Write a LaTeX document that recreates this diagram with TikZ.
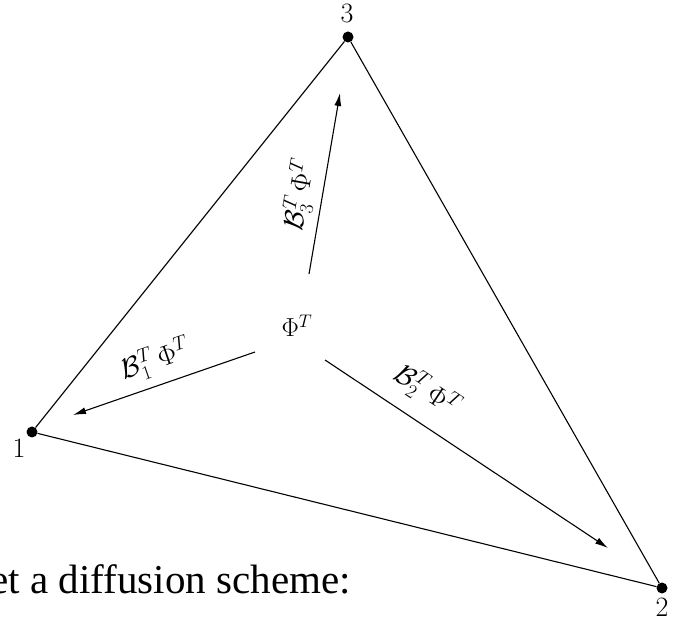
\documentclass[tikz,border=0pt]{standalone}
\usepackage{fix-cm}
\usepackage{fontspec}
\newfontfamily\tnr{Liberation Serif}
\usetikzlibrary{arrows.meta}
\begin{document}
\begin{tikzpicture}[x=1pt,y=1pt,
  vtx/.style={circle,fill=black,inner sep=0pt,minimum size=11pt},
  edge/.style={line width=1.1pt},
  flow/.style={line width=1.1pt,-{Latex[length=13pt,width=7pt]}},
  lbl/.style={font=\fontsize{28}{33}\selectfont,inner sep=0pt},
  num/.style={font=\fontsize{28}{33}\selectfont,inner sep=0pt}]
\useasboundingbox (0,0) rectangle (676,623);
\node[vtx] (v1) at (32,191) {};
\node[vtx] (v2) at (662,35) {};
\node[vtx] (v3) at (348,586) {};
\node[num] (n1) at (19,175) {1};
\node[num] (n2) at (662,16) {2};
\node[num] (n3) at (347,610) {3};
\node[lbl,font=\fontsize{26}{30}\selectfont] (phi) at (297,297) {$\Phi^T$};
\draw[edge] (v1) -- (v3) -- (v2) -- (v1);
\coordinate (t3) at (309,349); \coordinate (h3) at (340,530);
\coordinate (t1) at (255,271); \coordinate (h1) at (73,208);
\coordinate (t2) at (325,263); \coordinate (h2) at (608,75);
\draw[flow] (t3) -- (h3);
\draw[flow] (t1) -- (h1);
\draw[flow] (t2) -- (h2);
\node[lbl,rotate=80] (l3) at (300,428) {$\mathcal{B}_3^T\,\Phi^T$};
\node[lbl,rotate=19] (l1) at (156,263) {$\mathcal{B}_1^T\,\Phi^T$};
\node[lbl,rotate=-33.6] (l2) at (427,232) {$\mathcal{B}_2^T\,\Phi^T$};
\node[font=\tnr\fontsize{41}{48}\selectfont,anchor=base east,inner sep=0pt] (txt) at (351,30) {et a diffusion scheme:};
\end{tikzpicture}
\end{document}
